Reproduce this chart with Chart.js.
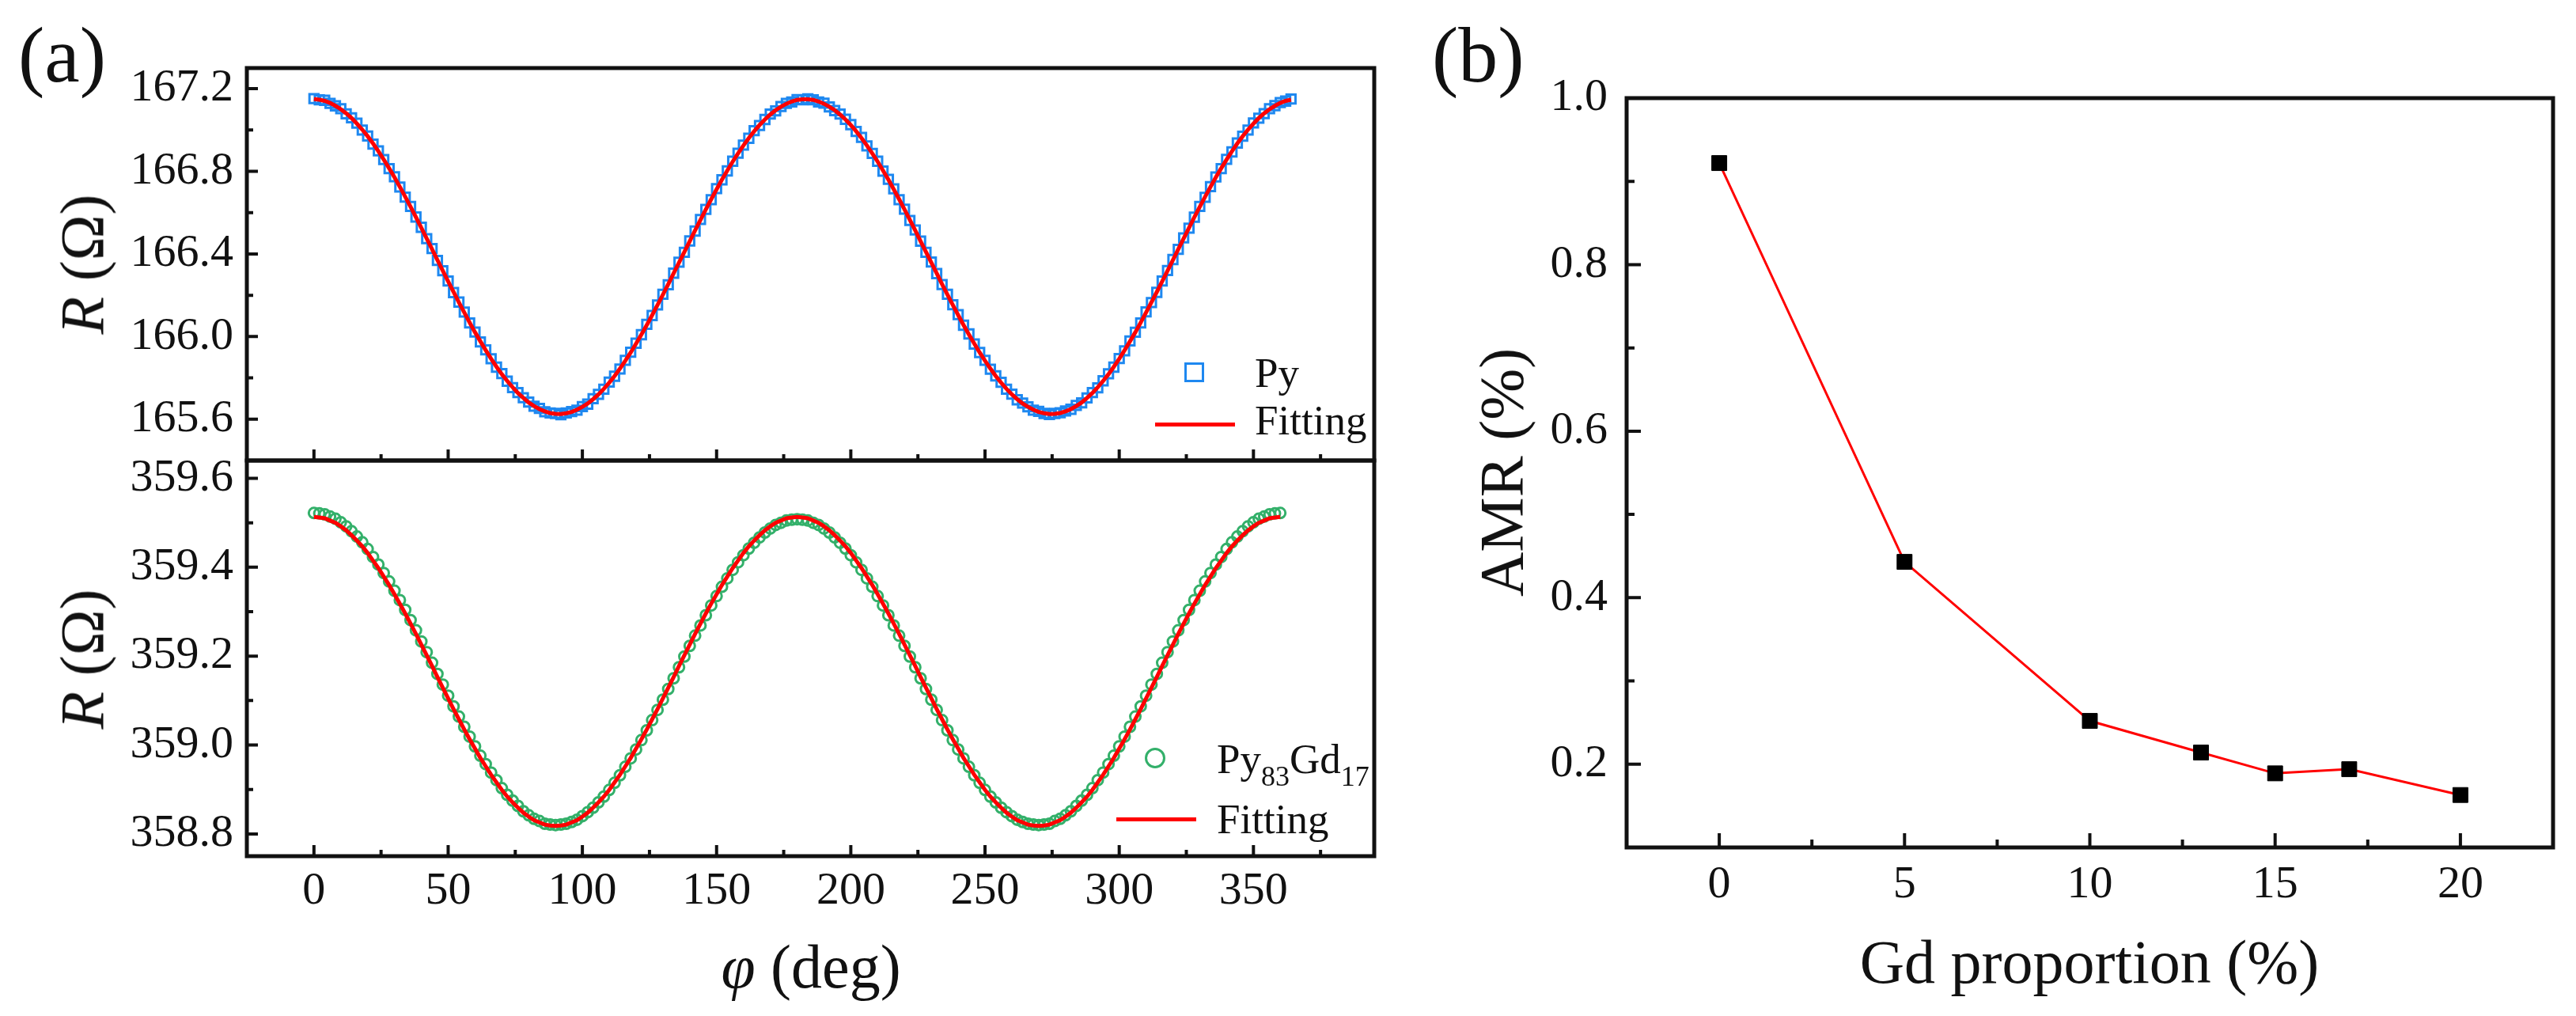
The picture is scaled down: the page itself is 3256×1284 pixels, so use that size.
<!DOCTYPE html>
<html>
<head>
<meta charset="utf-8">
<title>AMR of Py and Py83Gd17</title>
<script src="https://cdn.jsdelivr.net/npm/chart.js@4.4.1/dist/chart.umd.min.js"></script>
<style>
  html, body { margin: 0; padding: 0; background: #fff; }
  #page { position: relative; width: 3256px; height: 1284px; overflow: hidden;
          font-family: 'Liberation Serif', 'Times New Roman', serif; color: #111; }
  #page canvas { position: absolute; left: 0; top: 0; }
  .txt { position: absolute; white-space: nowrap; line-height: 1; }
  .xt { transform: translateX(-50%); font-size: 78px; }
  .yt { transform: translate(-50%, -50%) rotate(-90deg); font-size: 78px; }
  .lg { font-size: 53px; }
  .lg sub { font-size: 36px; vertical-align: -16px; line-height: 0; }
  .sym { position: absolute; box-sizing: border-box; }
</style>
</head>
<body>
<div id="page">
  <canvas id="chartPy" width="3256" height="1284"></canvas>
  <canvas id="chartGd" width="3256" height="1284"></canvas>
  <canvas id="chartAmr" width="3256" height="1284"></canvas>

  <div class="txt" style="left:23px;top:20px;font-size:100px">(a)</div>
  <div class="txt" style="left:1810px;top:20px;font-size:100px">(b)</div>

  <div class="txt yt" style="left:104px;top:334px"><i>R</i> (Ω)</div>
  <div class="txt yt" style="left:104px;top:833px"><i>R</i> (Ω)</div>
  <div class="txt xt" style="left:1025px;top:1183px"><i>φ</i> (deg)</div>
  <div class="txt yt" style="left:1898px;top:597px">AMR (%)</div>
  <div class="txt xt" style="left:2641px;top:1177px">Gd proportion (%)</div>

  <!-- legends of panel (a) -->
  <div class="sym" style="left:1497px;top:458px;width:25px;height:25px;border:3.5px solid #1e88f0"></div>
  <div class="txt lg" style="left:1586px;top:445px">Py</div>
  <div class="sym" style="left:1460px;top:534px;width:101px;height:5px;background:#ff0000"></div>
  <div class="txt lg" style="left:1586px;top:505px">Fitting</div>

  <div class="sym" style="left:1447px;top:945px;width:26px;height:26px;border:3px solid #33b06a;border-radius:50%"></div>
  <div class="txt lg" style="left:1538px;top:933px">Py<sub>83</sub>Gd<sub>17</sub></div>
  <div class="sym" style="left:1411px;top:1033px;width:101px;height:5px;background:#ff0000"></div>
  <div class="txt lg" style="left:1538px;top:1009px">Fitting</div>
</div>

<script>
// (a) rotation angle phi (deg), one reading every 2 deg
var phiPy = [
  0, 2, 4, 6, 8, 10, 12, 14, 16, 18,
  20, 22, 24, 26, 28, 30, 32, 34, 36, 38,
  40, 42, 44, 46, 48, 50, 52, 54, 56, 58,
  60, 62, 64, 66, 68, 70, 72, 74, 76, 78,
  80, 82, 84, 86, 88, 90, 92, 94, 96, 98,
  100, 102, 104, 106, 108, 110, 112, 114, 116, 118,
  120, 122, 124, 126, 128, 130, 132, 134, 136, 138,
  140, 142, 144, 146, 148, 150, 152, 154, 156, 158,
  160, 162, 164, 166, 168, 170, 172, 174, 176, 178,
  180, 182, 184, 186, 188, 190, 192, 194, 196, 198,
  200, 202, 204, 206, 208, 210, 212, 214, 216, 218,
  220, 222, 224, 226, 228, 230, 232, 234, 236, 238,
  240, 242, 244, 246, 248, 250, 252, 254, 256, 258,
  260, 262, 264, 266, 268, 270, 272, 274, 276, 278,
  280, 282, 284, 286, 288, 290, 292, 294, 296, 298,
  300, 302, 304, 306, 308, 310, 312, 314, 316, 318,
  320, 322, 324, 326, 328, 330, 332, 334, 336, 338,
  340, 342, 344, 346, 348, 350, 352, 354, 356, 358,
  360, 362, 364
];
var phiGd = [
  0, 2, 4, 6, 8, 10, 12, 14, 16, 18,
  20, 22, 24, 26, 28, 30, 32, 34, 36, 38,
  40, 42, 44, 46, 48, 50, 52, 54, 56, 58,
  60, 62, 64, 66, 68, 70, 72, 74, 76, 78,
  80, 82, 84, 86, 88, 90, 92, 94, 96, 98,
  100, 102, 104, 106, 108, 110, 112, 114, 116, 118,
  120, 122, 124, 126, 128, 130, 132, 134, 136, 138,
  140, 142, 144, 146, 148, 150, 152, 154, 156, 158,
  160, 162, 164, 166, 168, 170, 172, 174, 176, 178,
  180, 182, 184, 186, 188, 190, 192, 194, 196, 198,
  200, 202, 204, 206, 208, 210, 212, 214, 216, 218,
  220, 222, 224, 226, 228, 230, 232, 234, 236, 238,
  240, 242, 244, 246, 248, 250, 252, 254, 256, 258,
  260, 262, 264, 266, 268, 270, 272, 274, 276, 278,
  280, 282, 284, 286, 288, 290, 292, 294, 296, 298,
  300, 302, 304, 306, 308, 310, 312, 314, 316, 318,
  320, 322, 324, 326, 328, 330, 332, 334, 336, 338,
  340, 342, 344, 346, 348, 350, 352, 354, 356, 358,
  360
];

// Py: measured R (Ohm)
var rPy = [
  167.152, 167.146, 167.144, 167.129, 167.117, 167.103, 167.078, 167.059, 167.033, 167.000,
  166.971, 166.932, 166.899, 166.857, 166.813, 166.774, 166.724, 166.675, 166.630, 166.579,
  166.529, 166.474, 166.426, 166.369, 166.319, 166.269, 166.213, 166.167, 166.119, 166.066,
  166.022, 165.974, 165.936, 165.893, 165.852, 165.821, 165.784, 165.753, 165.729, 165.704,
  165.683, 165.663, 165.652, 165.636, 165.630, 165.628, 165.622, 165.630, 165.637, 165.644,
  165.661, 165.673, 165.699, 165.720, 165.745, 165.780, 165.808, 165.843, 165.885, 165.924,
  165.968, 166.009, 166.059, 166.102, 166.153, 166.205, 166.251, 166.307, 166.360, 166.408,
  166.463, 166.511, 166.567, 166.616, 166.663, 166.716, 166.759, 166.802, 166.849, 166.888,
  166.927, 166.960, 166.997, 167.022, 167.051, 167.077, 167.093, 167.114, 167.129, 167.136,
  167.147, 167.146, 167.151, 167.146, 167.136, 167.130, 167.112, 167.094, 167.077, 167.052,
  167.026, 166.993, 166.964, 166.923, 166.887, 166.849, 166.801, 166.761, 166.715, 166.663,
  166.617, 166.562, 166.516, 166.462, 166.408, 166.361, 166.305, 166.252, 166.205, 166.154,
  166.106, 166.055, 166.013, 165.964, 165.923, 165.885, 165.842, 165.810, 165.779, 165.745,
  165.721, 165.694, 165.678, 165.660, 165.644, 165.638, 165.628, 165.623, 165.628, 165.631,
  165.640, 165.648, 165.667, 165.679, 165.703, 165.729, 165.752, 165.786, 165.820, 165.852,
  165.894, 165.931, 165.979, 166.021, 166.066, 166.120, 166.165, 166.214, 166.269, 166.320,
  166.373, 166.422, 166.478, 166.525, 166.578, 166.630, 166.674, 166.726, 166.773, 166.813,
  166.858, 166.894, 166.937, 166.970, 167.000, 167.034, 167.057, 167.079, 167.103, 167.118,
  167.133, 167.140, 167.150
];
// Py: fitted curve (Ohm)
var rPyFit = [
  167.150, 167.147, 167.141, 167.131, 167.117, 167.101, 167.081, 167.058, 167.031, 167.002,
  166.970, 166.935, 166.897, 166.857, 166.815, 166.771, 166.725, 166.677, 166.628, 166.578,
  166.527, 166.475, 166.423, 166.371, 166.319, 166.267, 166.216, 166.166, 166.117, 166.068,
  166.021, 165.977, 165.934, 165.893, 165.854, 165.818, 165.785, 165.755, 165.727, 165.703,
  165.681, 165.664, 165.649, 165.638, 165.630, 165.626, 165.625, 165.629, 165.635, 165.646,
  165.660, 165.676, 165.697, 165.720, 165.747, 165.777, 165.809, 165.845, 165.883, 165.923,
  165.966, 166.010, 166.056, 166.104, 166.153, 166.203, 166.254, 166.306, 166.358, 166.410,
  166.462, 166.514, 166.565, 166.616, 166.665, 166.713, 166.760, 166.804, 166.847, 166.887,
  166.925, 166.961, 166.994, 167.024, 167.051, 167.075, 167.096, 167.113, 167.127, 167.138,
  167.146, 167.149, 167.149, 167.146, 167.138, 167.127, 167.113, 167.096, 167.075, 167.051,
  167.024, 166.994, 166.961, 166.925, 166.887, 166.847, 166.804, 166.760, 166.713, 166.665,
  166.616, 166.565, 166.514, 166.462, 166.410, 166.358, 166.306, 166.254, 166.203, 166.153,
  166.104, 166.056, 166.010, 165.966, 165.923, 165.883, 165.845, 165.809, 165.777, 165.747,
  165.720, 165.697, 165.676, 165.660, 165.646, 165.635, 165.629, 165.625, 165.626, 165.630,
  165.638, 165.649, 165.664, 165.681, 165.703, 165.727, 165.755, 165.785, 165.818, 165.854,
  165.893, 165.934, 165.977, 166.021, 166.068, 166.117, 166.166, 166.216, 166.267, 166.319,
  166.371, 166.423, 166.475, 166.527, 166.578, 166.628, 166.677, 166.725, 166.771, 166.815,
  166.857, 166.897, 166.935, 166.970, 167.002, 167.031, 167.058, 167.081, 167.101, 167.117,
  167.131, 167.141, 167.147
];

// Py83Gd17: measured R (Ohm)
var rGd = [
  359.522, 359.521, 359.519, 359.514, 359.509, 359.501, 359.492, 359.481, 359.469, 359.456,
  359.441, 359.423, 359.406, 359.387, 359.368, 359.347, 359.326, 359.304, 359.281, 359.258,
  359.233, 359.209, 359.185, 359.160, 359.136, 359.111, 359.087, 359.064, 359.041, 359.019,
  358.997, 358.976, 358.957, 358.938, 358.921, 358.903, 358.888, 358.875, 358.863, 358.851,
  358.842, 358.834, 358.829, 358.823, 358.821, 358.820, 358.821, 358.823, 358.827, 358.832,
  358.840, 358.849, 358.859, 358.871, 358.884, 358.899, 358.915, 358.932, 358.951, 358.970,
  358.990, 359.011, 359.033, 359.056, 359.079, 359.102, 359.126, 359.150, 359.175, 359.199,
  359.223, 359.246, 359.269, 359.292, 359.314, 359.335, 359.356, 359.375, 359.394, 359.411,
  359.427, 359.442, 359.455, 359.467, 359.478, 359.487, 359.495, 359.500, 359.505, 359.507,
  359.508, 359.507, 359.505, 359.500, 359.495, 359.487, 359.478, 359.467, 359.455, 359.442,
  359.427, 359.411, 359.394, 359.375, 359.356, 359.335, 359.314, 359.292, 359.269, 359.246,
  359.223, 359.199, 359.175, 359.150, 359.126, 359.102, 359.079, 359.056, 359.033, 359.011,
  358.990, 358.970, 358.951, 358.932, 358.915, 358.899, 358.884, 358.871, 358.859, 358.849,
  358.840, 358.832, 358.827, 358.823, 358.821, 358.820, 358.821, 358.823, 358.829, 358.834,
  358.842, 358.851, 358.863, 358.875, 358.888, 358.903, 358.921, 358.938, 358.957, 358.976,
  358.997, 359.019, 359.041, 359.064, 359.087, 359.111, 359.136, 359.160, 359.185, 359.209,
  359.233, 359.258, 359.281, 359.304, 359.326, 359.347, 359.368, 359.387, 359.406, 359.423,
  359.441, 359.456, 359.469, 359.481, 359.492, 359.501, 359.509, 359.514, 359.519, 359.521,
  359.522
];
// Py83Gd17: fitted curve (Ohm)
var rGdFit = [
  359.513, 359.512, 359.510, 359.505, 359.500, 359.492, 359.483, 359.472, 359.460, 359.447,
  359.432, 359.415, 359.398, 359.379, 359.360, 359.339, 359.318, 359.296, 359.273, 359.250,
  359.226, 359.202, 359.178, 359.153, 359.129, 359.105, 359.081, 359.058, 359.035, 359.013,
  358.992, 358.971, 358.952, 358.933, 358.916, 358.899, 358.884, 358.871, 358.859, 358.848,
  358.839, 358.831, 358.826, 358.821, 358.819, 358.818, 358.819, 358.821, 358.826, 358.831,
  358.839, 358.848, 358.859, 358.871, 358.884, 358.899, 358.916, 358.933, 358.952, 358.971,
  358.992, 359.013, 359.035, 359.058, 359.081, 359.105, 359.129, 359.153, 359.178, 359.202,
  359.226, 359.250, 359.273, 359.296, 359.318, 359.339, 359.360, 359.379, 359.398, 359.415,
  359.432, 359.447, 359.460, 359.472, 359.483, 359.492, 359.500, 359.505, 359.510, 359.512,
  359.513, 359.512, 359.510, 359.505, 359.500, 359.492, 359.483, 359.472, 359.460, 359.447,
  359.432, 359.415, 359.398, 359.379, 359.360, 359.339, 359.318, 359.296, 359.273, 359.250,
  359.226, 359.202, 359.178, 359.153, 359.129, 359.105, 359.081, 359.058, 359.035, 359.013,
  358.992, 358.971, 358.952, 358.933, 358.916, 358.899, 358.884, 358.871, 358.859, 358.848,
  358.839, 358.831, 358.826, 358.821, 358.819, 358.818, 358.819, 358.821, 358.826, 358.831,
  358.839, 358.848, 358.859, 358.871, 358.884, 358.899, 358.916, 358.933, 358.952, 358.971,
  358.992, 359.013, 359.035, 359.058, 359.081, 359.105, 359.129, 359.153, 359.178, 359.202,
  359.226, 359.250, 359.273, 359.296, 359.318, 359.339, 359.360, 359.379, 359.398, 359.415,
  359.432, 359.447, 359.460, 359.472, 359.483, 359.492, 359.500, 359.505, 359.510, 359.512,
  359.513
];

// (b) AMR vs Gd proportion
var gdPct = [0, 5, 10, 13, 15, 17, 20];
var amrPct = [0.922, 0.443, 0.252, 0.214, 0.189, 0.194, 0.163];

// tick labels
var phiTicks = [0, 50, 100, 150, 200, 250, 300, 350];
var rPyTicks = [165.6, 166.0, 166.4, 166.8, 167.2];
var rGdTicks = [358.8, 359.0, 359.2, 359.4, 359.6];
var gdTicks = [0, 5, 10, 15, 20];
var amrTicks = [0.2, 0.4, 0.6, 0.8, 1.0];

var SERIF = '"Liberation Serif", "Times New Roman", serif';
var INK = '#111';
var BLUE = '#1e88f0';
var GREEN = '#33b06a';
var RED = '#ff0000';

Chart.defaults.font.family = SERIF;

function pts(xs, ys) {
  return xs.map(function(x, i) { return { x: x, y: ys[i] }; });
}

function oneDec(v) { return Number(v).toFixed(1); }
function whole(v) { return String(Math.round(v)); }

// minor ticks halfway between the majors, kept inside the frame
function minorValues(scale) {
  var t = scale.ticks.map(function(k) { return k.value; });
  var step = t[1] - t[0];
  var out = [];
  for (var i = -1; i <= t.length; i++) {
    var v = t[0] + (i + 0.5) * step;
    if (v > scale.min + 1e-9 && v < scale.max - 1e-9) out.push(v);
  }
  return out;
}

// box frame with inward ticks on the left and bottom edges
function frameTicks(cfg) {
  return {
    id: 'frameTicks',
    afterDatasetsDraw: function(chart) {
      var ctx = chart.ctx, a = chart.chartArea;
      var sx = chart.scales.x, sy = chart.scales.y;
      ctx.save();
      ctx.strokeStyle = INK;
      ctx.lineWidth = cfg.tickWidth;
      ctx.beginPath();
      sx.ticks.forEach(function(t) {
        var px = sx.getPixelForValue(t.value);
        ctx.moveTo(px, a.bottom); ctx.lineTo(px, a.bottom - cfg.major);
      });
      minorValues(sx).forEach(function(v) {
        var px = sx.getPixelForValue(v);
        ctx.moveTo(px, a.bottom); ctx.lineTo(px, a.bottom - cfg.minor);
      });
      sy.ticks.forEach(function(t) {
        var py = sy.getPixelForValue(t.value);
        ctx.moveTo(a.left, py); ctx.lineTo(a.left + cfg.major, py);
      });
      minorValues(sy).forEach(function(v) {
        var py = sy.getPixelForValue(v);
        ctx.moveTo(a.left, py); ctx.lineTo(a.left + cfg.minor, py);
      });
      ctx.stroke();
      ctx.lineWidth = cfg.frame;
      ctx.strokeRect(a.left, a.top, a.right - a.left, a.bottom - a.top);
      ctx.restore();
    }
  };
}

function axis(min, max, ticks, o) {
  return {
    type: 'linear',
    min: min,
    max: max,
    afterBuildTicks: function(scale) {
      scale.ticks = ticks.map(function(v) { return { value: v }; });
    },
    afterFit: o.fit,
    grid: { display: false, drawTicks: false },
    border: { display: false },
    ticks: {
      display: o.labels !== false,
      padding: o.pad || 0,
      autoSkip: false,
      maxRotation: 0,
      color: INK,
      font: { family: SERIF, size: 58 },
      callback: o.fmt
    }
  };
}

function baseOptions(padding, scales) {
  return {
    responsive: false,
    animation: false,
    events: [],
    layout: { padding: padding },
    plugins: { legend: { display: false }, tooltip: { enabled: false } },
    scales: scales
  };
}

var charts = [];

// (a) upper: Py
charts.push(new Chart(document.getElementById('chartPy'), {
  type: 'scatter',
  data: {
    datasets: [
      { label: 'Fitting', data: pts(phiPy, rPyFit), showLine: true, borderColor: RED, borderWidth: 5,
        pointRadius: 0, tension: 0, order: 0 },
      { label: 'Py', data: pts(phiPy, rPy), showLine: false, pointStyle: 'rect', pointRadius: 8,
        pointBorderWidth: 3, pointBorderColor: BLUE, pointBackgroundColor: 'rgba(0,0,0,0)', order: 1 }
    ]
  },
  options: baseOptions({ left: 112, top: 86, right: 1519, bottom: 702 }, {
    x: axis(-25, 395, phiTicks, { labels: false, fit: function(s) { s.height = 0; } }),
    y: axis(165.4, 167.3, rPyTicks, { pad: 17, fmt: oneDec, fit: function(s) { s.width = 200; } })
  }),
  plugins: [frameTicks({ major: 14, minor: 8, tickWidth: 4, frame: 5 })]
}));

// (a) lower: Py83Gd17
charts.push(new Chart(document.getElementById('chartGd'), {
  type: 'scatter',
  data: {
    datasets: [
      { label: 'Fitting', data: pts(phiGd, rGdFit), showLine: true, borderColor: RED, borderWidth: 5,
        pointRadius: 0, tension: 0, order: 0 },
      { label: 'Py83Gd17', data: pts(phiGd, rGd), showLine: false, pointStyle: 'circle', pointRadius: 6.5,
        pointBorderWidth: 3, pointBorderColor: GREEN, pointBackgroundColor: 'rgba(0,0,0,0)', order: 1 }
    ]
  },
  options: baseOptions({ left: 112, top: 582, right: 1519, bottom: 102 }, {
    x: axis(-25, 395, phiTicks, { pad: 10, fmt: whole, fit: function(s) { s.height = 100; } }),
    y: axis(358.75, 359.64, rGdTicks, { pad: 17, fmt: oneDec, fit: function(s) { s.width = 200; } })
  }),
  plugins: [frameTicks({ major: 14, minor: 8, tickWidth: 4, frame: 5 })]
}));

// (b) AMR vs Gd proportion
charts.push(new Chart(document.getElementById('chartAmr'), {
  type: 'scatter',
  data: {
    datasets: [
      { label: 'AMR', data: pts(gdPct, amrPct), showLine: true, borderColor: RED, borderWidth: 3,
        tension: 0, pointStyle: 'rect', pointRadius: 13.4, pointBorderWidth: 1,
        pointBorderColor: '#000', pointBackgroundColor: '#000' }
    ]
  },
  options: baseOptions({ left: 1856, top: 124, right: 29, bottom: 113 }, {
    x: axis(-2.5, 22.5, gdTicks, { pad: 13, fmt: whole, fit: function(s) { s.height = 100; } }),
    y: axis(0.1, 1.0, amrTicks, { pad: 24, fmt: oneDec, fit: function(s) { s.width = 200; } })
  }),
  plugins: [frameTicks({ major: 18, minor: 10, tickWidth: 4, frame: 5 })]
}));

// redraw once the serif face is surely available to the canvas
if (document.fonts && document.fonts.load) {
  document.fonts.load('58px "Liberation Serif"').then(function() {
    charts.forEach(function(c) { c.update('none'); });
  });
}
</script>
</body>
</html>
